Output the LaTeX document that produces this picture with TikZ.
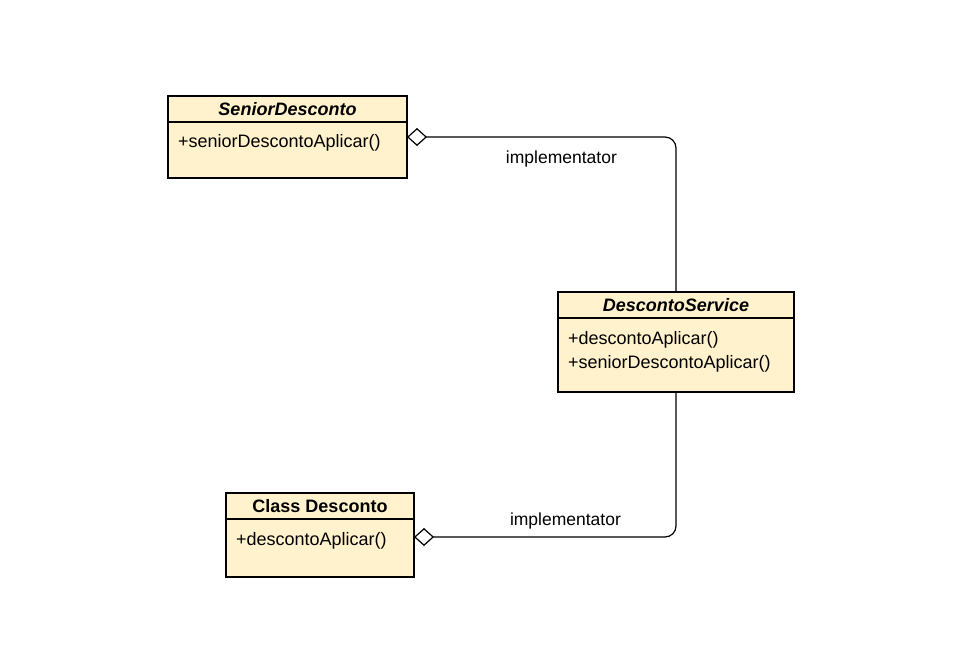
\documentclass[tikz,border=0pt]{standalone}
\usepackage{fontspec}
\setmainfont{Liberation Sans}
\usetikzlibrary{arrows.meta,positioning}
\definecolor{classfill}{HTML}{FFF2CC}

\begin{document}
\begin{tikzpicture}[
  x=1pt,y=-1pt,
  font=\fontsize{17.5pt}{24pt}\selectfont,
  head/.style={draw,fill=classfill,line width=1.2pt,outer sep=0pt,minimum height=26pt,font=\fontsize{18pt}{24pt}\selectfont\bfseries},
  member/.style={draw,fill=classfill,line width=1.2pt,outer sep=0pt,align=left,inner xsep=10pt,inner ysep=0pt,text height=25pt,font=\fontsize{18pt}{24pt}\selectfont},
  aggr/.style={draw,line width=1.2pt,rounded corners=11pt,{Diamond[open,fill=white,length=20pt,width=18pt]}-}
]
\useasboundingbox (0,0) rectangle (970,649);

\node[head,minimum width=239pt,anchor=north west] (senior) at (168,96) {\textit{SeniorDesconto}};
\node[member,text width=219pt,text depth=31pt,below=0pt of senior] (seniorbody) {+seniorDescontoAplicar()};

\node[head,minimum width=236pt,anchor=north west] (service) at (558,292) {\textit{DescontoService}};
\node[member,text width=216pt,text height=26pt,text depth=48pt,below=0pt of service] (servicebody)
  {+descontoAplicar()\\+seniorDescontoAplicar()};

\node[head,minimum width=188pt,anchor=north west] (desconto) at (226,493) {Class Desconto};
\node[member,text width=168pt,text height=26pt,text depth=32pt,below=0pt of desconto] (descontobody) {+descontoAplicar()};

\path[aggr] ([yshift=-15pt]seniorbody.north east) -| node[pos=0.287,below=10pt] (lblsenior) {implementator} (service.north);
\path[aggr] ([yshift=-18pt]descontobody.north east) -| node[pos=0.289,above=4pt] (lbldesconto) {implementator} (servicebody.south);
\end{tikzpicture}
\end{document}
